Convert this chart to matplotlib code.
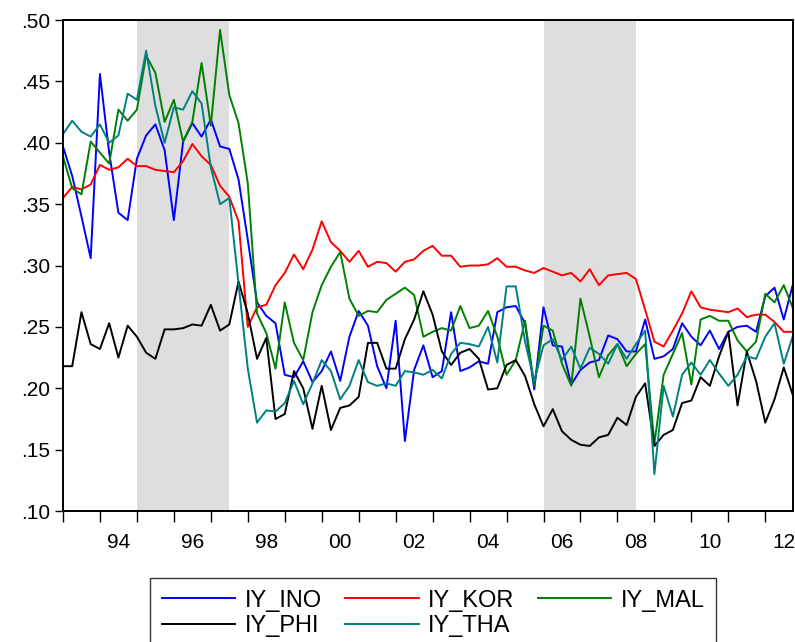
import numpy as np
import matplotlib
matplotlib.use('Agg')
import matplotlib.pyplot as plt

plt.rcParams['font.family'] = ['Liberation Sans', 'DejaVu Sans']

# quarterly data, 1993Q1 .. 2012Q4
start_year = 1993
iy_ino = [.397, .373, .340, .306, .456, .392, .343, .337, .387, .406,
          .415, .394, .337, .401, .416, .405, .419, .397, .395, .370,
          .321, .270, .259, .253, .211, .209, .222, .205, .214, .230,
          .206, .242, .263, .251, .218, .200, .255, .157, .215, .235,
          .209, .214, .262, .214, .217, .222, .220, .262, .266, .267,
          .253, .199, .266, .235, .234, .203, .215, .221, .223, .243,
          .240, .230, .230, .256, .224, .226, .232, .253, .242, .235,
          .247, .232, .246, .250, .251, .246, .275, .282, .256, .285]
iy_kor = [.355, .364, .362, .366, .382, .378, .380, .387, .381, .381,
          .378, .377, .376, .385, .399, .389, .382, .365, .356, .336,
          .250, .266, .268, .284, .294, .309, .297, .313, .336, .319,
          .312, .303, .312, .299, .303, .302, .295, .303, .305, .312,
          .316, .308, .308, .299, .300, .300, .301, .306, .299, .299,
          .296, .294, .298, .295, .292, .294, .287, .297, .284, .292,
          .293, .294, .289, .264, .238, .234, .247, .261, .279, .266,
          .264, .263, .262, .265, .258, .260, .260, .254, .246, .246]
iy_mal = [.389, .363, .358, .401, .392, .383, .427, .418, .427, .471,
          .457, .417, .435, .401, .417, .465, .414, .492, .439, .416,
          .367, .261, .245, .216, .270, .237, .223, .262, .284, .299,
          .311, .273, .259, .263, .262, .272, .277, .282, .276, .242,
          .246, .249, .247, .267, .249, .251, .263, .242, .211, .223,
          .255, .202, .251, .247, .220, .202, .273, .242, .209, .227,
          .236, .218, .228, .236, .155, .211, .228, .245, .203, .256,
          .259, .255, .255, .239, .230, .238, .277, .270, .284, .265]
iy_phi = [.218, .218, .262, .236, .232, .253, .225, .251, .242, .229,
          .224, .248, .248, .249, .252, .251, .268, .247, .252, .287,
          .261, .224, .241, .175, .179, .214, .200, .167, .202, .166,
          .184, .186, .193, .237, .237, .216, .216, .240, .256, .279,
          .260, .230, .219, .229, .232, .224, .199, .200, .219, .223,
          .210, .187, .169, .183, .165, .158, .154, .153, .160, .162,
          .176, .170, .193, .204, .153, .162, .166, .188, .190, .209,
          .202, .226, .246, .186, .230, .206, .172, .191, .217, .194]
iy_tha = [.407, .418, .409, .405, .415, .400, .406, .440, .435, .475,
          .430, .400, .429, .427, .442, .432, .380, .350, .355, .285,
          .216, .172, .182, .181, .188, .206, .187, .204, .223, .214,
          .191, .202, .223, .205, .202, .204, .202, .214, .213, .211,
          .215, .208, .228, .237, .236, .234, .250, .221, .283, .283,
          .238, .206, .235, .240, .223, .234, .216, .233, .228, .220,
          .236, .224, .236, .247, .130, .202, .177, .211, .221, .211,
          .223, .212, .202, .211, .226, .224, .242, .253, .220, .243]

series = [('IY_INO', iy_ino, '#0000FF'), ('IY_KOR', iy_kor, '#FF0000'),
          ('IY_MAL', iy_mal, '#008000'), ('IY_PHI', iy_phi, '#000000'),
          ('IY_THA', iy_tha, '#008080')]

shades = [(1995.0, 1997.5), (2006.0, 2008.5)]
yticks = [.10, .15, .20, .25, .30, .35, .40, .45, .50]
ylabels = ['.10', '.15', '.20', '.25', '.30', '.35', '.40', '.45', '.50']
xlabel_years = list(range(1994, 2013, 2))

n = len(iy_ino)
t = start_year + np.arange(n) / 4.0

fig = plt.figure(figsize=(7.95, 6.42), dpi=100)
ax = fig.add_axes([0.0792, 0.204, 0.9183, 0.7648])

for a, b in shades:
    ax.axvspan(a, b, color='#DEDEDE', lw=0, zorder=0)

lines = []
for name, vals, col in series:
    ln, = ax.plot(t, vals, color=col, lw=1.4, label=name)
    lines.append(ln)

ax.set_xlim(t[0], t[-1])
ax.set_ylim(0.10, 0.50)
ax.set_yticks(yticks)
ax.set_yticklabels(ylabels)
ax.tick_params(axis='y', direction='out', length=6, width=1, labelsize=15, pad=3)

# year ticks on the axis, labels centred inside the year
ax.set_xticks(np.arange(1993, 2013))
ax.set_xticklabels([])
ax.tick_params(axis='x', which='major', direction='out', length=8, width=1)
ax.set_xticks([y + 0.5 for y in xlabel_years], minor=True)
ax.set_xticklabels(['%02d' % (y % 100) for y in xlabel_years], minor=True)
ax.tick_params(axis='x', which='minor', length=0, labelsize=15, pad=16)

for s in ax.spines.values():
    s.set_linewidth(1.4)

# legend: 3 columns, ordered row-wise
order = [0, 3, 1, 4, 2]
leg = fig.legend([lines[i] for i in order], [series[i][0] for i in order],
                 loc='upper center', bbox_to_anchor=(0.545, 0.100), ncol=3,
                 fontsize=17, frameon=True, fancybox=False, edgecolor='black',
                 handlelength=3.1, handletextpad=0.4, columnspacing=1.0,
                 labelspacing=0.15, borderpad=0.5, borderaxespad=0)
leg.get_frame().set_linewidth(1.0)

fig.savefig('out.png', dpi=100)
